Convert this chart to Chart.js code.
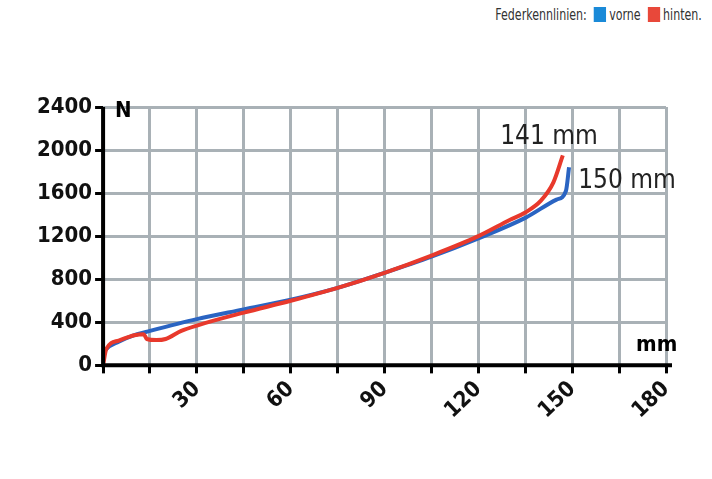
<!DOCTYPE html>
<html><head><meta charset="utf-8">
<script src="https://cdn.jsdelivr.net/npm/chart.js@4"></script>
<style>
body{margin:0;background:#fff;width:712px;height:479px;overflow:hidden;font-family:"DejaVu Sans Condensed",sans-serif}
#legend{position:absolute;top:6px;right:10px;font-size:15px;color:#333;transform:scaleX(0.82);transform-origin:right}
.sw{display:inline-block;width:15px;height:15px;vertical-align:-2px;margin:0 4px}
#wrap{position:absolute;left:0;top:0;width:712px;height:479px}
</style></head><body>
<div id="legend">Federkennlinien: <span class="sw" style="background:#1a8ad8"></span>vorne <span class="sw" style="background:#e8483a"></span>hinten.</div>
<div id="wrap"><canvas id="c"></canvas></div>
<script>
const vorneX = [0, 1, 5, 10, 15, 30, 45, 60, 75, 90, 105, 120, 135, 145, 148, 149];
const vorneY = [100, 150, 220, 280, 320, 430, 520, 610, 720, 860, 1010, 1180, 1370, 1540, 1620, 1840];
const hintenX = [0, 1, 5, 10, 13, 14, 17, 20, 25, 30, 45, 60, 75, 90, 105, 120, 130, 135, 140, 144, 147];
const hintenY = [0, 150, 230, 280, 290, 245, 235, 245, 320, 370, 490, 600, 720, 860, 1020, 1200, 1350, 1420, 1530, 1700, 1950];
const notes = [{ x: 141, y: 2000, text: "141 mm" }, { x: 150, y: 1740, text: "150 mm" }];

const pts = (xs, ys) => xs.map((x, i) => ({ x, y: ys[i] }));

const extras = {
  id: "extras",
  afterDraw(chart) {
    const { ctx, scales: { x, y }, chartArea: a } = chart;
    ctx.save();
    ctx.strokeStyle = "#000";
    ctx.lineWidth = 4;
    ctx.beginPath();
    ctx.moveTo(a.left, a.top);
    ctx.lineTo(a.left, a.bottom);
    ctx.lineTo(a.right + 6, a.bottom);
    ctx.stroke();
    ctx.fillStyle = "#000";
    ctx.font = "bold 22px 'DejaVu Sans Condensed'";
    ctx.fillText("N", a.left + 12, a.top + 10);
    ctx.fillText("mm", a.right - 30, a.bottom - 14);
    ctx.font = "26px 'DejaVu Sans Condensed'";
    ctx.fillStyle = "#222";
    ctx.textAlign = "center";
    ctx.fillText(notes[0].text, x.getPixelForValue(notes[0].x) + 5, y.getPixelForValue(notes[0].y) - 6);
    ctx.textAlign = "left";
    ctx.fillText(notes[1].text, x.getPixelForValue(notes[1].x) + 6, y.getPixelForValue(notes[1].y) + 10);
    ctx.restore();
  }
};

new Chart(document.getElementById("c"), {
  type: "scatter",
  data: {
    datasets: [
      { label: "hinten", data: pts(hintenX, hintenY), showLine: true, borderColor: "#e8392c", borderWidth: 4, pointRadius: 0, cubicInterpolationMode: "monotone" },
      { label: "vorne", data: pts(vorneX, vorneY), showLine: true, borderColor: "#2a64c2", borderWidth: 4, pointRadius: 0, cubicInterpolationMode: "monotone" }
    ]
  },
  options: {
    animation: false,
    responsive: true,
    maintainAspectRatio: false,
    layout: { padding: { left: 34, right: 46, top: 107, bottom: 52 } },
    plugins: { legend: { display: false }, tooltip: { enabled: false } },
    scales: {
      x: {
        type: "linear", min: 0, max: 180,
        border: { display: false },
        grid: { color: "#a9b1b6", lineWidth: 3, tickColor: "#000", tickLength: 8, drawTicks: true },
        ticks: { stepSize: 15, color: "#111", font: { size: 22, weight: "bold", family: "DejaVu Sans Condensed" },
          callback: (v) => (v % 30 === 0 && v > 0 ? String(v) : "") }
      },
      y: {
        min: 0, max: 2400,
        border: { display: false },
        grid: { color: "#a9b1b6", lineWidth: 3, tickColor: "#000", tickLength: 8 },
        ticks: { stepSize: 400, color: "#111", font: { size: 22, weight: "bold", family: "DejaVu Sans Condensed" },
          callback: (v) => String(v) }
      }
    }
  },
  plugins: [extras]
});
</script>
</body></html>
